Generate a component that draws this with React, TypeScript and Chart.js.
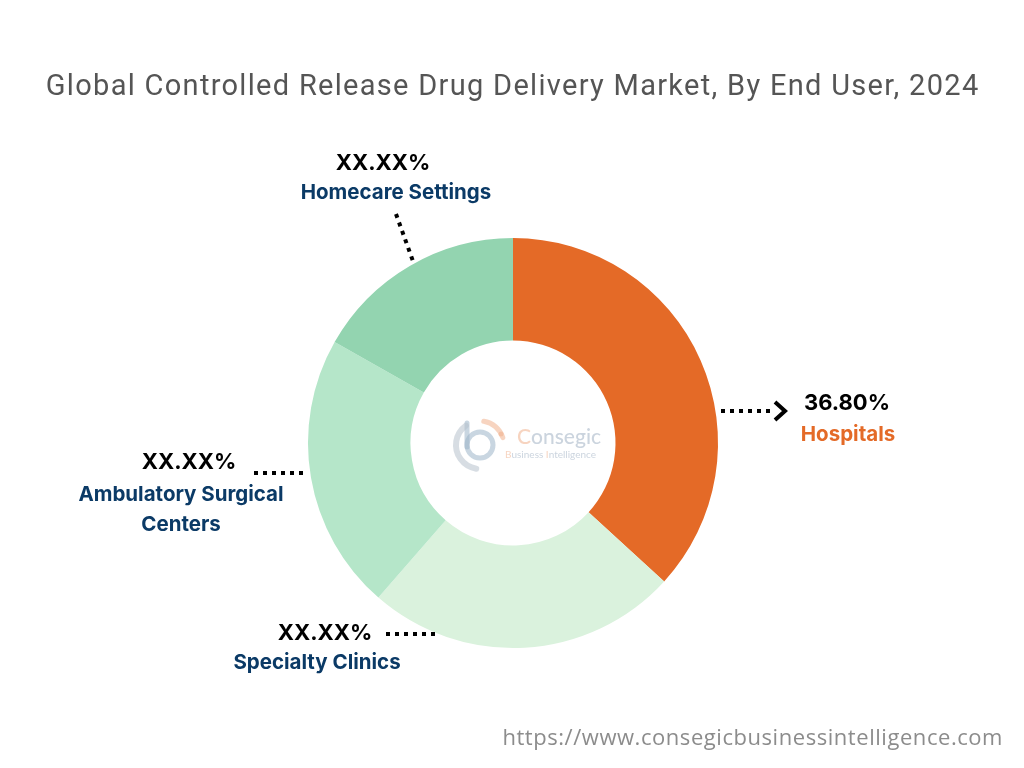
import React, { useEffect, useRef } from "react";
import { Chart, registerables } from "chart.js";

Chart.register(...registerables);

const categories = ["Hospitals", "Specialty Clinics", "Ambulatory Surgical Centers", "Homecare Settings"];
const shares = [36.8, 24.6, 21.8, 16.8];
const valueLabels = ["36.80%", "XX.XX%", "XX.XX%", "XX.XX%"];
const sliceColors = ["#E46A27", "#DAF2DD", "#B5E6C9", "#93D4B0"];
const titleText = "Global Controlled Release Drug Delivery Market, By End User, 2024";
const sourceText = "https://www.consegicbusinessintelligence.com";

const NAVY = "#0B3A66";

function dotted(ctx: CanvasRenderingContext2D, x1: number, y1: number, x2: number, y2: number) {
  ctx.save();
  ctx.strokeStyle = "#000";
  ctx.lineWidth = 4;
  ctx.setLineDash([4, 5]);
  ctx.beginPath();
  ctx.moveTo(x1, y1);
  ctx.lineTo(x2, y2);
  ctx.stroke();
  ctx.restore();
}

function text(ctx: CanvasRenderingContext2D, s: string, x: number, y: number, font: string, color: string, align: CanvasTextAlign = "center", spacing = 0) {
  ctx.save();
  ctx.font = font;
  (ctx as any).letterSpacing = spacing + "px";
  ctx.fillStyle = color;
  ctx.textAlign = align;
  ctx.textBaseline = "middle";
  ctx.fillText(s, align === "center" ? x + spacing / 2 : x, y);
  ctx.restore();
}

const overlayPlugin = {
  id: "overlay",
  afterDraw(chart: any) {
    const ctx: CanvasRenderingContext2D = chart.ctx;
    const arc = chart.getDatasetMeta(0).data[0];
    const cx = arc.x;
    const cy = arc.y;

    // title
    text(ctx, titleText, 512, 88, "400 29px Roboto", "#555555", "center", 1.3);

    const pctFont = "700 22px Inter";
    const nameFont = "700 20.5px Inter";

    // Hospitals
    text(ctx, valueLabels[0], cx + 334, cy - 40, pctFont, "#000");
    text(ctx, "Hospitals", cx + 335, cy - 8, nameFont, sliceColors[0]);
    dotted(ctx, cx + 208, cy - 32, cx + 260, cy - 32);
    ctx.save();
    ctx.strokeStyle = "#000";
    ctx.lineWidth = 4;
    ctx.lineJoin = "miter";
    ctx.beginPath();
    ctx.moveTo(cx + 262, cy - 41);
    ctx.lineTo(cx + 272, cy - 32);
    ctx.lineTo(cx + 262, cy - 23);
    ctx.stroke();
    ctx.restore();

    // Specialty Clinics
    text(ctx, valueLabels[1], cx - 188, cy + 190, pctFont, "#000");
    text(ctx, "Specialty Clinics", cx - 196, cy + 220, nameFont, NAVY);
    dotted(ctx, cx - 127, cy + 191, cx - 73, cy + 191);

    // Ambulatory Surgical Centers
    text(ctx, valueLabels[2], cx - 324, cy + 19, pctFont, "#000");
    text(ctx, "Ambulatory Surgical", cx - 332, cy + 52, nameFont, NAVY);
    text(ctx, "Centers", cx - 332, cy + 82, nameFont, NAVY);
    dotted(ctx, cx - 259, cy + 30, cx - 205, cy + 30);

    // Homecare Settings
    text(ctx, valueLabels[3], cx - 130, cy - 280, pctFont, "#000");
    text(ctx, "Homecare Settings", cx - 117, cy - 250, nameFont, NAVY);
    dotted(ctx, cx - 117, cy - 229, cx - 99, cy - 179);

    // watermark logo
    ctx.save();
    ctx.globalAlpha = 0.55;
    ctx.lineCap = "round";
    ctx.strokeStyle = "#9DB4C8";
    ctx.lineWidth = 5;
    ctx.beginPath();
    ctx.arc(cx - 33, cy + 2, 13, 0, Math.PI * 2);
    ctx.stroke();
    ctx.beginPath();
    ctx.moveTo(cx - 46, cy - 20);
    ctx.lineTo(cx - 46, cy + 4);
    ctx.stroke();
    ctx.strokeStyle = "#B7C1CC";
    ctx.lineWidth = 6;
    ctx.beginPath();
    ctx.arc(cx - 33, cy + 2, 24, Math.PI * 0.55, Math.PI * 1.3);
    ctx.stroke();
    ctx.strokeStyle = "#F0B08C";
    ctx.lineWidth = 5;
    ctx.beginPath();
    ctx.arc(cx - 33, cy + 2, 24, Math.PI * 1.55, Math.PI * 1.9);
    ctx.stroke();
    ctx.fillStyle = "#F0B08C";
    ctx.beginPath();
    ctx.arc(cx - 12, cy - 9, 2.5, 0, Math.PI * 2);
    ctx.fill();
    ctx.restore();

    ctx.save();
    ctx.globalAlpha = 0.6;
    ctx.textBaseline = "middle";
    ctx.textAlign = "left";
    ctx.font = "500 21px Lato";
    ctx.fillStyle = "#F2B896";
    ctx.fillText("C", cx + 4, cy - 6);
    const cw = ctx.measureText("C").width;
    ctx.fillStyle = "#A9B8C8";
    ctx.fillText("onsegic", cx + 4 + cw, cy - 6);
    ctx.font = "400 10px Lato";
    let x = cx - 8;
    const parts: [string, string][] = [["B", "#F2B896"], ["usiness ", "#A9B8C8"], ["I", "#F2B896"], ["ntelligence", "#A9B8C8"]];
    for (const [s, c] of parts) {
      ctx.fillStyle = c;
      ctx.fillText(s, x, cy + 12);
      x += ctx.measureText(s).width;
    }
    ctx.restore();

    // source
    text(ctx, sourceText, 1003, 739, "400 22px 'Open Sans'", "#8C8C8C", "right", 0.55);
  },
};

export default function App() {
  const ref = useRef<HTMLCanvasElement | null>(null);
  useEffect(() => {
    if (!ref.current) return;
    const chart = new Chart(ref.current, {
      type: "doughnut",
      data: {
        labels: categories,
        datasets: [
          {
            data: shares,
            backgroundColor: sliceColors,
            borderWidth: 0,
          },
        ],
      },
      options: {
        animation: false,
        responsive: false,
        cutout: "50%",
        layout: { padding: { left: 308, right: 306, top: 238, bottom: 120 } },
        plugins: { legend: { display: false }, tooltip: { enabled: false }, title: { display: false } },
      },
      plugins: [overlayPlugin],
    });
    return () => chart.destroy();
  }, []);
  return (
    <div style={{ position: "fixed", left: 0, top: 0, width: 1024, height: 768, background: "#fff" }}>
      <canvas ref={ref} width={1024} height={768} style={{ width: 1024, height: 768 }} />
    </div>
  );
}
